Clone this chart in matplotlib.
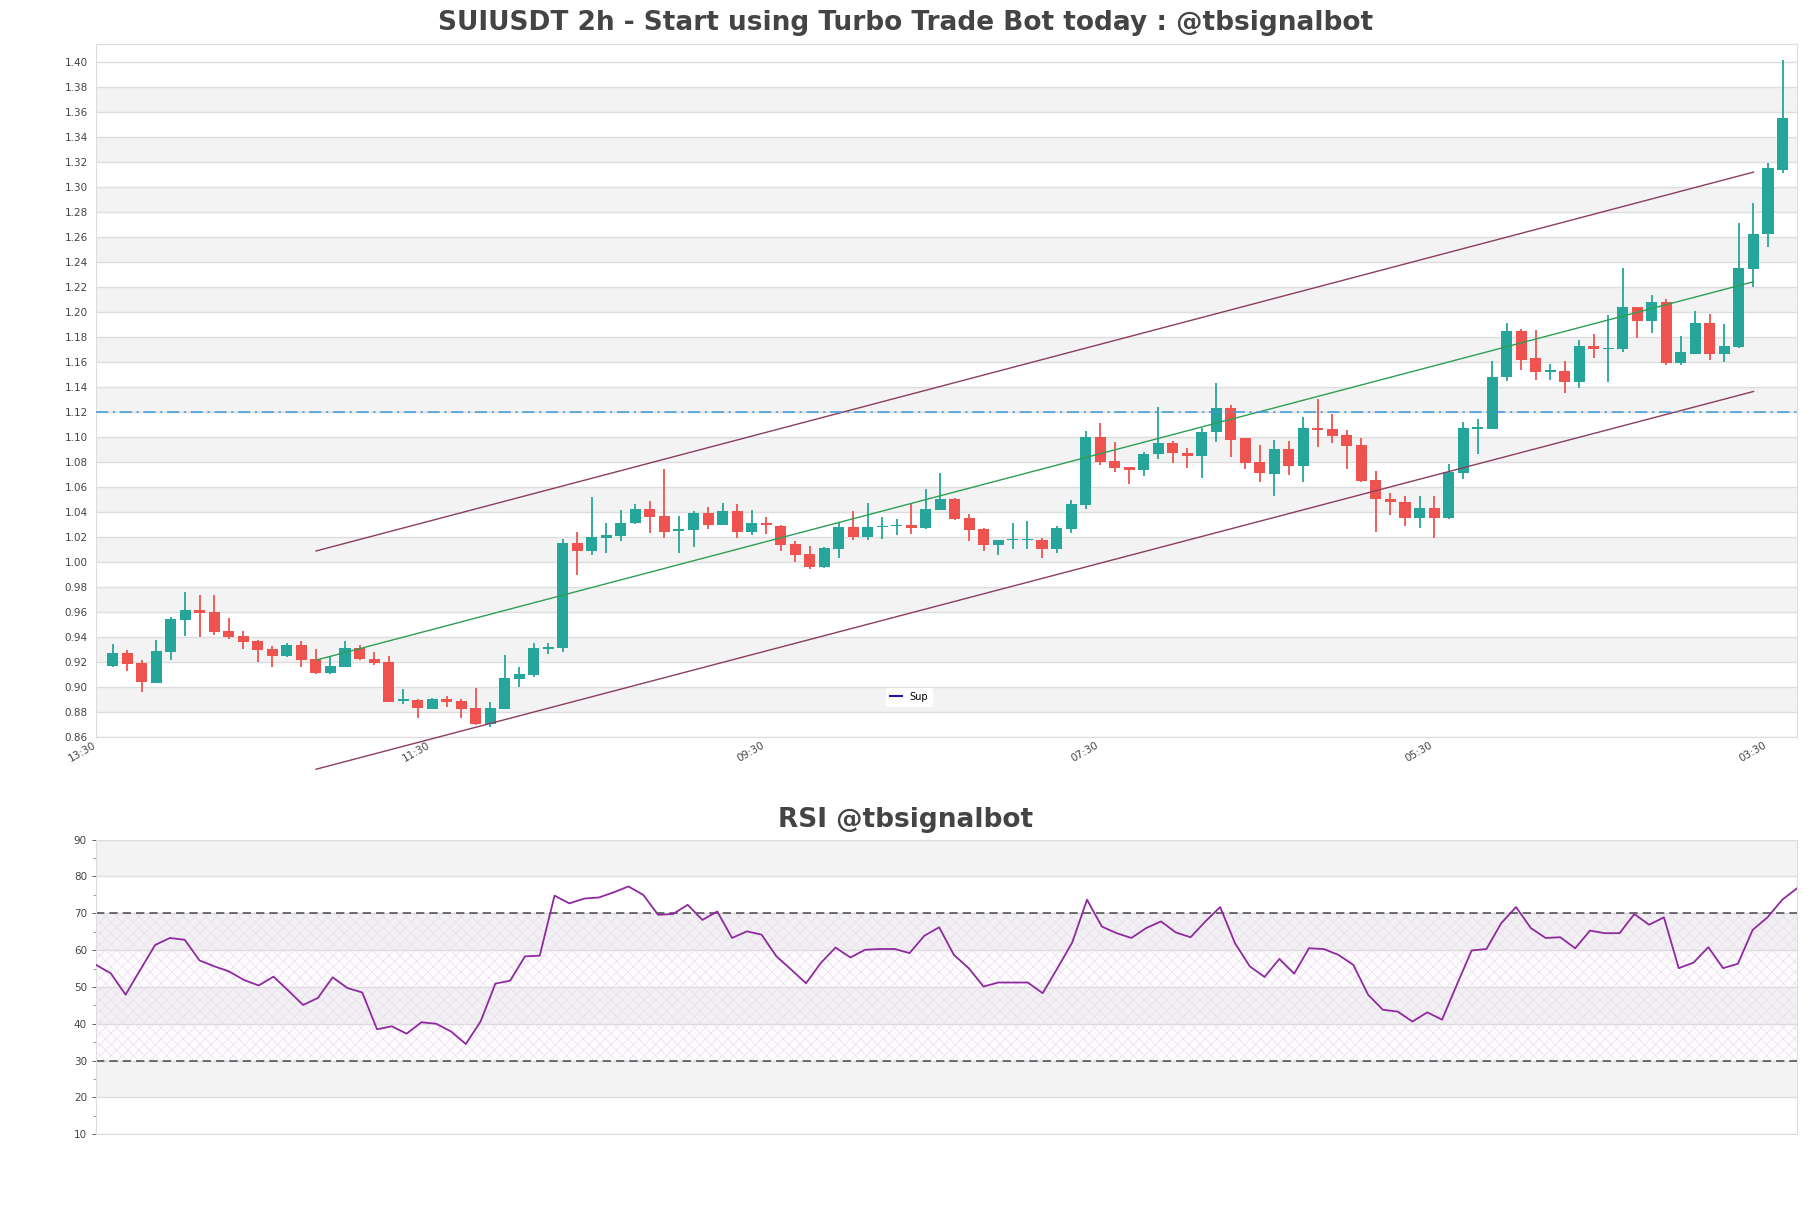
import numpy as np
import matplotlib.pyplot as plt

# candles (2h)
opens = [0.917, 0.927, 0.9195, 0.9035, 0.9283, 0.9536, 0.9616, 0.960, 0.9448, 0.9411,
         0.9368, 0.9304, 0.925, 0.9336, 0.9221, 0.9115, 0.9163, 0.931, 0.9227, 0.9203,
         0.8888, 0.8896, 0.8827, 0.8904, 0.8888, 0.8835, 0.8704, 0.8827, 0.9067, 0.9096,
         0.9307, 0.9312, 1.015, 1.009, 1.0195, 1.0205, 1.031, 1.0424, 1.0368, 1.0248,
         1.0259, 1.0392, 1.0299, 1.0408, 1.0243, 1.0314, 1.029, 1.0144, 1.0064, 0.9963,
         1.0107, 1.0277, 1.0203, 1.0277, 1.0285, 1.0296, 1.0269, 1.0419, 1.0504, 1.0352,
         1.0264, 1.0139, 1.0173, 1.0173, 1.0176, 1.0101, 1.0267, 1.0459, 1.0998, 1.0808,
         1.0757, 1.0733, 1.0861, 1.0952, 1.0869, 1.0845, 1.1038, 1.123, 1.0989, 1.080,
         1.0707, 1.0904, 1.077, 1.1072, 1.1064, 1.1016, 1.0936, 1.0656, 1.0501, 1.048,
         1.0355, 1.0432, 1.0355, 1.0715, 1.1064, 1.1064, 1.1482, 1.1848, 1.163, 1.1523,
         1.153, 1.1438, 1.1728, 1.1702, 1.1702, 1.2043, 1.1931, 1.2078, 1.159, 1.1664,
         1.191, 1.1664, 1.1723, 1.2347, 1.2621, 1.3139]
highs = [0.934, 0.9296, 0.9213, 0.9373, 0.9563, 0.976, 0.9736, 0.9736, 0.9552, 0.9448,
         0.9373, 0.9328, 0.9352, 0.9365, 0.9307, 0.924, 0.9365, 0.9336, 0.928, 0.9248,
         0.8984, 0.8901, 0.891, 0.8928, 0.8904, 0.8992, 0.8877, 0.9256, 0.916, 0.9355,
         0.9355, 1.0181, 1.024, 1.0518, 1.031, 1.0413, 1.0464, 1.0488, 1.0741, 1.0368,
         1.041, 1.044, 1.0472, 1.0464, 1.0416, 1.0357, 1.0298, 1.0168, 1.0128, 1.0117,
         1.0317, 1.0408, 1.0472, 1.0362, 1.0346, 1.0472, 1.0584, 1.0712, 1.0512, 1.0381,
         1.0275, 1.0176, 1.031, 1.0326, 1.0192, 1.0291, 1.0496, 1.1048, 1.1112, 1.096,
         1.0757, 1.088, 1.1237, 1.097, 1.0914, 1.1075, 1.1432, 1.1256, 1.0989, 1.0936,
         1.0976, 1.097, 1.116, 1.1304, 1.1184, 1.1056, 1.0989, 1.0728, 1.0549, 1.0528,
         1.0528, 1.0528, 1.0784, 1.112, 1.1144, 1.1608, 1.1912, 1.1861, 1.1856, 1.1584,
         1.1604, 1.1776, 1.1824, 1.1976, 1.235, 1.2043, 1.2134, 1.2104, 1.1808, 1.2008,
         1.1984, 1.1901, 1.2715, 1.2875, 1.319, 1.4016]
lows = [0.916, 0.913, 0.8963, 0.903, 0.9216, 0.941, 0.9403, 0.9416, 0.9381, 0.9307,
        0.9203, 0.9163, 0.9237, 0.9163, 0.910, 0.910, 0.916, 0.9216, 0.9176, 0.8878,
        0.8861, 0.875, 0.882, 0.8843, 0.8755, 0.8696, 0.8683, 0.882, 0.9003, 0.9083,
        0.9261, 0.9283, 0.9896, 1.0055, 1.0074, 1.0171, 1.0304, 1.023, 1.0195, 1.007,
        1.0123, 1.0267, 1.0295, 1.0192, 1.0213, 1.0227, 1.0091, 1.0003, 0.994, 0.9955,
        1.003, 1.0179, 1.0179, 1.0181, 1.0213, 1.0224, 1.0264, 1.0416, 1.0334, 1.017,
        1.0091, 1.0059, 1.0101, 1.0101, 1.0032, 1.0069, 1.0235, 1.0421, 1.0779, 1.072,
        1.0621, 1.0685, 1.0827, 1.0795, 1.0749, 1.0675, 1.0963, 1.0843, 1.0744, 1.0643,
        1.053, 1.0698, 1.0643, 1.0918, 1.0954, 1.0747, 1.0637, 1.0243, 1.0379, 1.0291,
        1.0275, 1.019, 1.0347, 1.0667, 1.0867, 1.1064, 1.1446, 1.1536, 1.1456, 1.1456,
        1.1354, 1.1392, 1.1632, 1.144, 1.1677, 1.1795, 1.1835, 1.1576, 1.1576, 1.1664,
        1.1616, 1.1603, 1.1709, 1.2198, 1.2518, 1.3112]
closes = [0.927, 0.9187, 0.9037, 0.9288, 0.9544, 0.9616, 0.9595, 0.9443, 0.9403, 0.9363,
          0.9299, 0.925, 0.9336, 0.9219, 0.9115, 0.9168, 0.931, 0.9224, 0.9195, 0.8883,
          0.8899, 0.883, 0.8904, 0.8883, 0.8827, 0.8704, 0.8835, 0.9072, 0.9104, 0.9312,
          0.9315, 1.0155, 1.009, 1.020, 1.0213, 1.0314, 1.0424, 1.0362, 1.0243, 1.0264,
          1.0392, 1.0299, 1.0408, 1.0243, 1.0314, 1.0293, 1.0136, 1.0059, 0.9963, 1.0112,
          1.0277, 1.0203, 1.0277, 1.0285, 1.0293, 1.0269, 1.0424, 1.0504, 1.0347, 1.0259,
          1.0139, 1.0176, 1.0176, 1.0176, 1.0101, 1.0272, 1.0464, 1.0998, 1.0803, 1.0755,
          1.0733, 1.0864, 1.0952, 1.0869, 1.0848, 1.104, 1.1232, 1.0979, 1.0795, 1.071,
          1.0904, 1.077, 1.1072, 1.1059, 1.101, 1.093, 1.065, 1.0501, 1.0477, 1.0355,
          1.0432, 1.0355, 1.0723, 1.1072, 1.1072, 1.148, 1.1848, 1.1616, 1.1523, 1.1536,
          1.1438, 1.1728, 1.1702, 1.1709, 1.2043, 1.1931, 1.2078, 1.159, 1.1677, 1.191,
          1.1664, 1.1728, 1.235, 1.2624, 1.3152, 1.355]

rsi = [56.0, 53.7, 47.9, 54.7, 61.4, 63.3, 62.8, 57.2, 55.6, 54.2,
       51.9, 50.4, 52.8, 49.0, 45.1, 47.0, 52.6, 49.7, 48.5, 38.5,
       39.3, 37.3, 40.4, 40.0, 37.9, 34.5, 40.6, 50.9, 51.7, 58.3,
       58.5, 74.8, 72.7, 74.0, 74.3, 75.7, 77.3, 75.0, 69.6, 69.8,
       72.3, 68.2, 70.5, 63.3, 65.1, 64.2, 58.3, 54.7, 51.0, 56.5,
       60.7, 58.0, 60.1, 60.3, 60.3, 59.2, 63.9, 66.2, 58.7, 55.1,
       50.1, 51.2, 51.2, 51.2, 48.3, 55.1, 62.1, 73.7, 66.4, 64.6,
       63.3, 66.0, 67.8, 64.8, 63.5, 67.8, 71.7, 61.9, 55.6, 52.7,
       57.6, 53.6, 60.5, 60.3, 58.7, 56.0, 47.9, 43.8, 43.3, 40.6,
       43.1, 41.1, 50.6, 59.9, 60.3, 67.3, 71.7, 66.0, 63.3, 63.5,
       60.5, 65.3, 64.6, 64.6, 69.8, 66.9, 68.9, 55.1, 56.6, 60.8,
       55.1, 56.3, 65.5, 68.9, 73.7, 76.8]

tick_pos = [-1, 22, 45, 68, 91, 114]
tick_labels = ['13:30', '11:30', '09:30', '07:30', '05:30', '03:30']

# trend channel
chan_x = [14, 113]
chan_upper = [1.0088, 1.3119]
chan_mid = [0.9215, 1.2242]
chan_lower = [0.8342, 1.1364]
sup_level = 1.12

up_col = '#26a69a'
down_col = '#ef5350'
txt_col = '#444444'

fig = plt.figure(figsize=(18.11, 12.08), dpi=100)
ax = fig.add_axes([0.053, 0.3899, 0.9393, 0.5737])
ax2 = fig.add_axes([0.053, 0.0611, 0.9393, 0.2438])

# ---- price panel
o = np.array(opens)
h = np.array(highs)
l = np.array(lows)
c = np.array(closes)
x = np.arange(len(o))
cols = np.where(c >= o, up_col, down_col)
body_lo = np.minimum(o, c)
body_h = np.maximum(np.abs(c - o), 0.0012)

ax.vlines(x, l, h, colors=cols, linewidth=1.3, zorder=3)
ax.bar(x, body_h, bottom=body_lo, width=0.76, color=cols, linewidth=0, zorder=4)

for k in range(13):
    ax.axhspan(0.88 + 0.04 * k, 0.90 + 0.04 * k, color='#f3f3f3', zorder=0, lw=0)
ax.set_ylim(0.86, 1.4144)
ax.set_xlim(-1.15, 116)
ax.set_yticks(np.arange(0.86, 1.401, 0.02))
ax.set_yticklabels(['%.2f' % v for v in np.arange(0.86, 1.401, 0.02)])
ax.yaxis.grid(True, color='#dddddd', linewidth=1)
ax.set_axisbelow(True)
ax.set_xticks(tick_pos)
ax.set_xticklabels(tick_labels, rotation=30, ha='right')
ax.tick_params(axis='both', length=0, labelsize=7.5, colors=txt_col, pad=6)
ax.tick_params(axis='x', pad=2)
for s in ax.spines.values():
    s.set_color('#dddddd')

ax.plot(chan_x, chan_upper, color='#8a3d63', lw=1, clip_on=False, zorder=5)
ax.plot(chan_x, chan_lower, color='#8a3d63', lw=1, clip_on=False, zorder=5)
ax.plot(chan_x, chan_mid, color='#2e9e55', lw=1, clip_on=False, zorder=5)
ax.axhline(sup_level, color='#3b9ad8', lw=1.1, linestyle=(0, (8, 3, 1.5, 3)), zorder=5)
ax.plot([], [], color='#1a1aa6', lw=1.5, label='Sup')
leg = ax.legend(loc='center', bbox_to_anchor=(0.478, 0.058), fontsize=7,
                frameon=True, framealpha=1, edgecolor='white', handlelength=1.2)

fig.text(0.5, 0.981, 'SUIUSDT 2h - Start using Turbo Trade Bot today : @tbsignalbot',
         ha='center', va='center', fontsize=19, fontweight='bold', color=txt_col)

# ---- RSI panel
rx = np.arange(len(rsi))
for lo in [20, 40, 60, 80]:
    ax2.axhspan(lo, lo + 10, color='#f3f3f3', zorder=0, lw=0)
plt.rcParams['hatch.linewidth'] = 0.5
ax2.axhspan(30, 70, facecolor=(0.55, 0.25, 0.65, 0.012), edgecolor='#eddcf0',
            hatch='xxx', lw=0, zorder=1)
ax2.axhline(70, color='#555555', lw=1.2, linestyle=(0, (5, 3)), zorder=2)
ax2.axhline(30, color='#555555', lw=1.2, linestyle=(0, (5, 3)), zorder=2)
ax2.plot(rx, rsi, color='#8e2a9e', lw=1.3, zorder=3)
ax2.set_xlim(0, len(rsi) - 1)
ax2.set_ylim(10, 90)
ax2.set_yticks(range(10, 91, 10))
ax2.set_yticks(range(15, 90, 10), minor=True)
ax2.yaxis.grid(True, color='#dddddd', linewidth=1)
ax2.set_axisbelow(True)
ax2.set_xticks([])
ax2.tick_params(axis='y', which='major', length=3, labelsize=7.5, colors=txt_col, width=0.6)
ax2.tick_params(axis='y', which='minor', length=2, colors='#888888', width=0.6)
for s in ax2.spines.values():
    s.set_color('#dddddd')

fig.text(0.5, 0.321, 'RSI @tbsignalbot', ha='center', va='center',
         fontsize=19, fontweight='bold', color=txt_col)

fig.savefig('out.png', dpi=100)
